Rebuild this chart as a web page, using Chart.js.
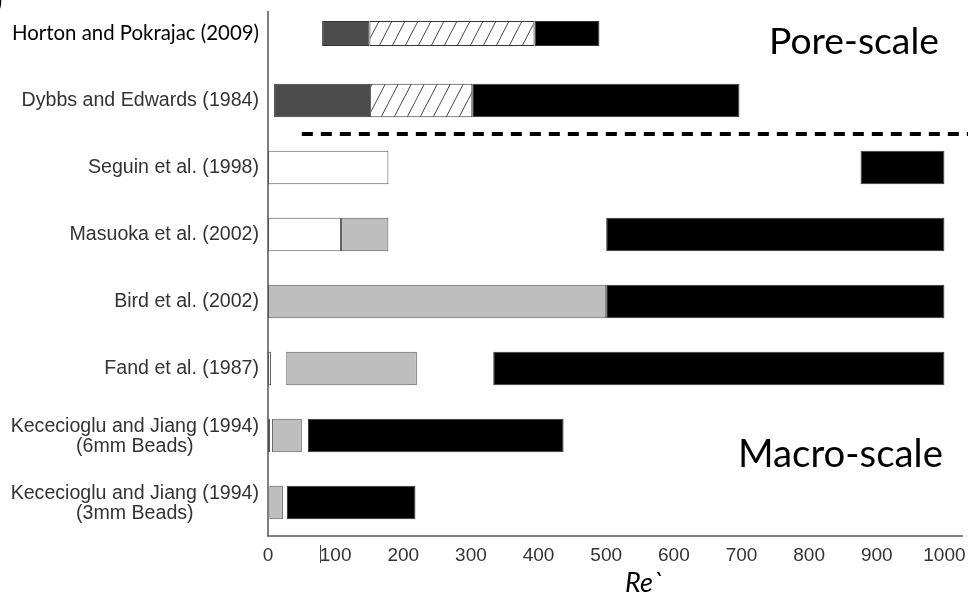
<!DOCTYPE html>
<html><head><meta charset="utf-8">
<script src="https://cdn.jsdelivr.net/npm/chart.js@4.4.1/dist/chart.umd.min.js"></script>
<style>html,body{margin:0;padding:0;background:#fff;overflow:hidden}#wrap{width:968px;height:597px;position:relative}</style>
</head><body><div id="wrap"><canvas id="c"></canvas></div>
<script>
// ---- data ----
const studies = [
  'Horton and Pokrajac (2009)',
  'Dybbs and Edwards (1984)',
  'Seguin et al. (1998)',
  'Masuoka et al. (2002)',
  'Bird et al. (2002)',
  'Fand et al. (1987)',
  ['Kececioglu and Jiang (1994)', '(6mm Beads)'],
  ['Kececioglu and Jiang (1994)', '(3mm Beads)']
];
// Re` ranges [start, end] for each flow regime, per study (null = not reported)
const poreDarcy     = [[80,150],[9,151],null,null,null,null,null,null];
const poreInertial  = [[150,394],[151,302],null,null,null,null,null,null];
const macroDarcy    = [null,null,[0,178],[0,108],null,[0,4.5],[0,3],null];
const transitional  = [null,null,null,[108,178],[0,500],[27,220],[6,50],[2,22]];
const turbulent     = [[394,490],[302,697],[876,1000],[500,1000],[500,1000],[333,1000],[59,437],[28,218]];
const xTickValues   = [0,100,200,300,400,500,600,700,800,900,1000];
const xMax = 1026;
const dividerIndex = 1.5;     // between pore-scale and macro-scale studies
const dividerStart = 50;
const strayTickValue = 77;
const poreLabel = 'Pore-scale';
const macroLabel = 'Macro-scale';
const axisTitle = 'Re`';

const LABEL_FONT = {family: '"Liberation Sans", Arial, sans-serif', size: 19.6, lineHeight: 1};
const MULTI_LINE_STEP = 20.5;
const LABEL_PAD = 9;

// ---- hatch pattern ----
function makeHatch() {
  const w = 13, h = 25;
  const c = document.createElement('canvas');
  c.width = w; c.height = h;
  const g = c.getContext('2d');
  g.fillStyle = '#fff'; g.fillRect(0,0,w,h);
  g.strokeStyle = '#4a4a4a'; g.lineWidth = 1;
  for (const o of [-w, 0, w]) {
    g.beginPath(); g.moveTo(o, h); g.lineTo(o + w, 0); g.stroke();
  }
  return g.createPattern(c, 'repeat');
}
const hatch = makeHatch();

const segStyles = [
  {data: poreDarcy,    bg: '#4b4b4b', bd: '#333'},
  {data: poreInertial, bg: hatch,     bd: '#333'},
  {data: macroDarcy,   bg: '#ffffff', bd: '#555'},
  {data: transitional, bg: '#bebebe', bd: '#555'},
  {data: turbulent,    bg: '#000000', bd: '#333'}
];
const datasets = [];
segStyles.forEach(s => {
  // first row is drawn with a thinner bar in the reference
  datasets.push({data: s.data.map((v,i)=> i===0 ? v : null), backgroundColor: s.bg, borderColor: s.bd,
    borderWidth: 1, borderSkipped: false, grouped: false, barPercentage: 0.375, categoryPercentage: 1});
  datasets.push({data: s.data.map((v,i)=> i===0 ? null : v), backgroundColor: s.bg, borderColor: s.bd,
    borderWidth: 1, borderSkipped: false, grouped: false, barPercentage: 0.5, categoryPercentage: 1});
});

const extras = {
  id: 'extras',
  beforeDatasetsDraw(chart) {
    const {ctx, chartArea: a} = chart;
    ctx.save();
    ctx.strokeStyle = '#555'; ctx.lineWidth = 1.5;
    ctx.beginPath(); ctx.moveTo(a.left, 11); ctx.lineTo(a.left, a.bottom); ctx.stroke();
    ctx.restore();
  },
  afterDraw(chart) {
    const {ctx, chartArea: a, scales: {x, y}} = chart;
    ctx.save();
    // multi-line category labels, each line centred on the widest line
    ctx.font = LABEL_FONT.size + 'px ' + LABEL_FONT.family;
    ctx.fillStyle = '#333'; ctx.textAlign = 'center'; ctx.textBaseline = 'middle';
    studies.forEach((lab, i) => {
      if (!Array.isArray(lab)) return;
      const widest = Math.max(...lab.map(t => ctx.measureText(t).width));
      const cx = a.left - LABEL_PAD - widest / 2;
      const cy = y.getPixelForValue(i) + 1;
      lab.forEach((t, k) => ctx.fillText(t, cx, cy + (k - (lab.length - 1) / 2) * MULTI_LINE_STEP));
    });
    // divider
    const yd = y.getPixelForValue(dividerIndex);
    ctx.strokeStyle = '#000'; ctx.lineWidth = 4; ctx.setLineDash([11, 8]);
    ctx.beginPath(); ctx.moveTo(x.getPixelForValue(dividerStart), yd); ctx.lineTo(chart.width, yd); ctx.stroke();
    ctx.setLineDash([]);
    // stray tick
    const xs = Math.round(x.getPixelForValue(strayTickValue)) + 0.5;
    ctx.strokeStyle = '#444'; ctx.lineWidth = 1;
    ctx.beginPath(); ctx.moveTo(xs, a.bottom + 9); ctx.lineTo(xs, a.bottom + 27); ctx.stroke();
    // region labels
    ctx.fillStyle = '#000'; ctx.textBaseline = 'alphabetic'; ctx.textAlign = 'left';
    function fitText(t, left, width, base, style) {
      let size = 40;
      ctx.font = style + ' ' + size + 'px Lato, "Open Sans", sans-serif';
      size = size * width / ctx.measureText(t).width;
      ctx.font = style + ' ' + size + 'px Lato, "Open Sans", sans-serif';
      ctx.fillText(t, left, base);
    }
    fitText(poreLabel, 769, 170, 54, 'normal');
    fitText(macroLabel, 738, 205, 467, 'normal');
    ctx.font = 'italic 27px Lato, "Open Sans", sans-serif';
    ctx.fillText(axisTitle, 625, 592);
    ctx.font = 'bold 22px Lato, sans-serif';
    ctx.fillText(')', -4, 9);
    ctx.restore();
  }
};

new Chart(document.getElementById('c'), {
  type: 'bar',
  data: {labels: studies, datasets},
  options: {
    indexAxis: 'y',
    responsive: true, maintainAspectRatio: false, animation: false,
    layout: {padding: {top: 0, right: 6, left: 0, bottom: 0}},
    plugins: {legend: {display: false}, tooltip: {enabled: false}},
    scales: {
      x: {
        type: 'linear', min: 0, max: xMax,
        grid: {display: false, drawTicks: false},
        border: {display: true, color: '#808080', width: 2},
        afterBuildTicks: s => { s.ticks = xTickValues.map(v => ({value: v})); },
        afterFit: s => { s.height = 61; s.paddingLeft = 0; s.paddingRight = 0; },
        ticks: {padding: 8, color: '#333', font: {family: '"Liberation Sans", Arial, sans-serif', size: 19},
          maxRotation: 0, autoSkip: false, callback: v => String(v)}
      },
      y: {
        type: 'category', offset: true,
        grid: {display: false, drawTicks: false},
        border: {display: false},
        afterFit: s => { s.width = 268; s.paddingTop = 0; s.paddingBottom = 0; },
        ticks: {
          padding: LABEL_PAD,
          // multi-line labels are drawn centred by the extras plugin
          callback: (v, i) => Array.isArray(studies[i]) ? '' : studies[i],
          color: c => c.index === 0 ? '#000' : '#333',
          font: c => c.index === 0
            ? {family: 'Lato, "Open Sans", sans-serif', size: 20.4, lineHeight: 1}
            : LABEL_FONT
        }
      }
    }
  },
  plugins: [extras]
});
</script></body></html>
